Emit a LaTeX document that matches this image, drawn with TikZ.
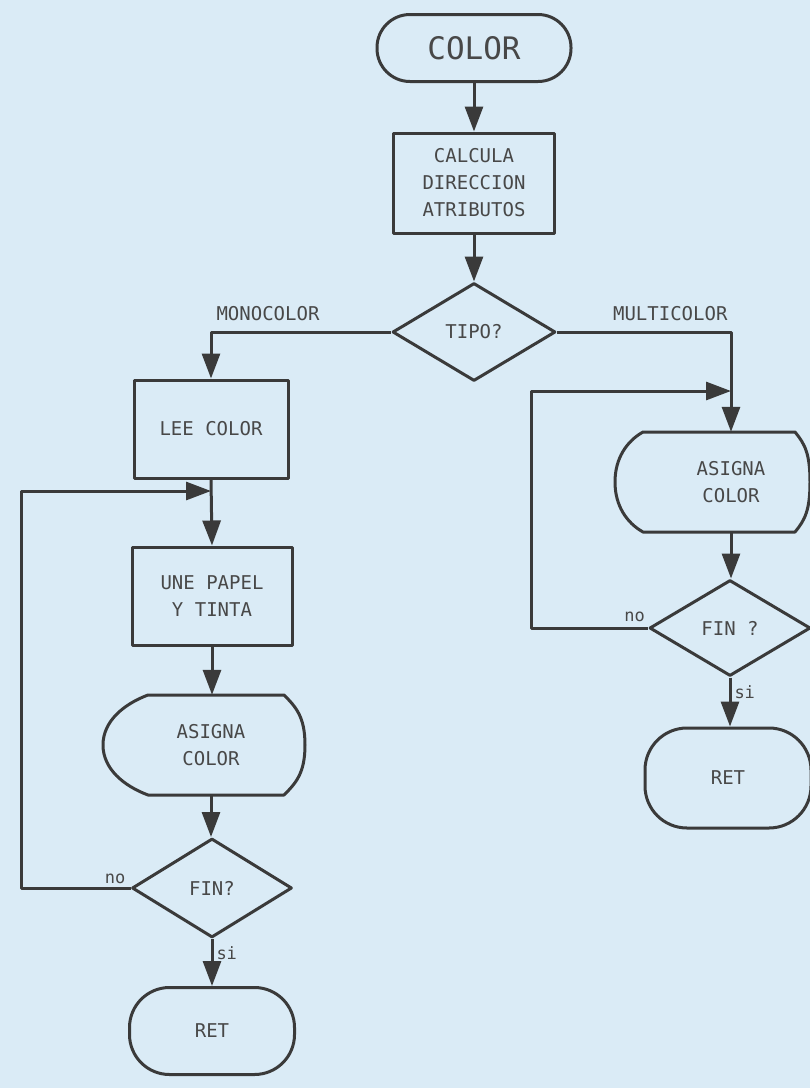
\documentclass[tikz,border=0pt]{standalone}
\usepackage{fontspec}
\setmonofont{DejaVu Sans Mono}
\usetikzlibrary{arrows.meta,shapes.geometric,calc}
\definecolor{bg}{RGB}{218,235,246}
\definecolor{ink}{RGB}{58,58,58}
\definecolor{txt}{RGB}{72,72,72}
\begin{document}
\begin{tikzpicture}[x=1pt,y=-1pt,
  line/.style={draw=ink,line width=3pt,line join=round},
  arr/.style={line,-{Triangle[length=25pt,width=18pt]}},
  lbl/.style={font=\ttfamily\fontsize{19}{27}\selectfont,text=txt},
  small/.style={font=\ttfamily\fontsize{17}{20}\selectfont,text=txt,inner sep=0pt},
  procbox/.style={line,rectangle,inner sep=0pt,align=center,lbl},
  decision/.style={line,diamond,inner sep=0pt,align=center,lbl},
  term/.style={line,rectangle,inner sep=0pt,align=center,lbl},
  disptext/.style={rectangle,inner sep=0pt,align=center,lbl,minimum width=100pt,minimum height=100pt}
]
\useasboundingbox (0,0) rectangle (810,1088);
\fill[bg] (0,0) rectangle (810,1088);

% main column
\node[term,rounded corners=33pt,minimum width=194pt,minimum height=67pt,
      font=\ttfamily\fontsize{31}{31}\selectfont] (color) at (474,48) {COLOR};
\node[procbox,minimum width=161pt,minimum height=100pt] (calc) at (474,183) {CALCULA\\DIRECCION\\ATRIBUTOS};
\node[decision,minimum width=163pt,minimum height=98pt] (tipo) at (474,332) {TIPO?};
\node[lbl,anchor=base west] (mono) at (213,320) {MONOCOLOR};
\node[lbl,anchor=base east] (multi) at (731,320) {MULTICOLOR};

% left column
\node[procbox,minimum width=154pt,minimum height=98pt] (lee) at (211,429) {LEE COLOR};
\coordinate (j1) at (211,491);
\node[procbox,minimum width=160pt,minimum height=98pt] (une) at (212,596) {UNE PAPEL\\Y TINTA};
\node[disptext] (asig1) at (211,745) {ASIGNA\\COLOR};
\draw[line] ($(asig1)+(-63,-50)$) -- ($(asig1)+(73,-50)$)
  .. controls +(12,12) and +(0,-28) .. ($(asig1)+(94,0)$)
  .. controls +(0,28) and +(12,-12) .. ($(asig1)+(73,50)$)
  -- ($(asig1)+(-63,50)$)
  .. controls +(-24,-9) and +(0,24) .. ($(asig1)+(-108,0)$)
  .. controls +(0,-24) and +(-24,9) .. ($(asig1)+(-63,-50)$) -- cycle;
\node[decision,minimum width=160pt,minimum height=99pt] (fin1) at (212,888) {FIN?};
\node[term,rounded corners=40pt,minimum width=165pt,minimum height=87pt] (ret1) at (212,1031) {RET};
\coordinate (loopL) at (21,700);
\node[small,anchor=base east] (no1) at ($(fin1.west)+(-5,-5)$) {no};

% right column
\coordinate (j2) at (731,391);
\node[disptext] (asig2) at (731,482) {ASIGNA\\COLOR};
\draw[line] ($(asig2)+(-88,-50)$) -- ($(asig2)+(64,-50)$)
  .. controls +(10,12) and +(0,-28) .. ($(asig2)+(79,0)$)
  .. controls +(0,28) and +(10,-12) .. ($(asig2)+(64,50)$)
  -- ($(asig2)+(-88,50)$)
  .. controls +(-16,-9) and +(0,24) .. ($(asig2)+(-116,0)$)
  .. controls +(0,-24) and +(-16,9) .. ($(asig2)+(-88,-50)$) -- cycle;
\node[decision,minimum width=161pt,minimum height=96pt] (fin2) at (730,628) {FIN ?};
\node[term,rounded corners=42pt,minimum width=166pt,minimum height=100pt] (ret2) at (728,778) {RET};
\coordinate (loopR) at (531,500);
\node[small,anchor=base east] (no2) at ($(fin2.west)+(-3,-7)$) {no};

% connectors
\draw[arr] (color) -- (calc);
\draw[arr] (calc) -- (tipo);
\draw[arr] (tipo.west) -| (lee.north);
\draw[arr] (lee.south) -- (une.north);
\draw[arr] (une.south) -- (une.south |- asig1.north);
\draw[arr] (asig1.south) -- (asig1.south |- fin1.north);
\draw[arr] (fin1.south) -- node[small,pos=0.3,right=3pt] (si1) {si} (ret1.north);
\draw[arr] (fin1.west) -| (loopL) |- (j1);

\draw[arr] (tipo.east) -| (asig2.north);
\draw[arr] (asig2.south) -- (asig2.south |- fin2.north);
\draw[arr] (fin2.south) -- node[small,pos=0.3,right=3pt] (si2) {si} (fin2.south |- ret2.north);
\draw[arr] (fin2.west) -| (loopR) |- (j2);
\end{tikzpicture}
\end{document}
